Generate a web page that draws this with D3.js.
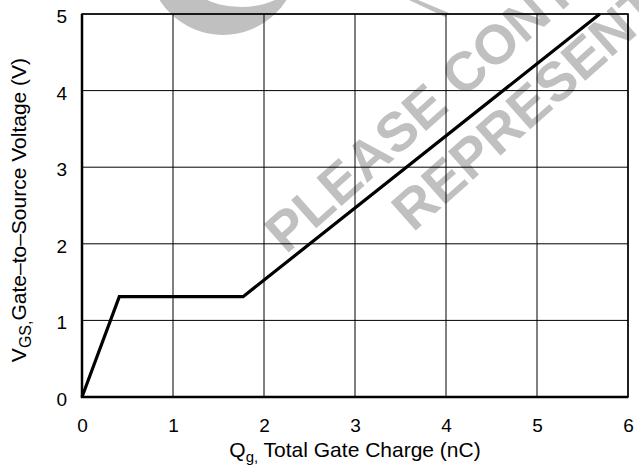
<!DOCTYPE html>
<html>
  <head>
    <meta charset="UTF-8" />
    <title>Gate Charge</title>
    <script src="https://d3js.org/d3.v7.min.js"></script>
    <style>
      body { margin: 0; background: #fff; }
      text { font-family: 'Liberation Sans', Arial, Helvetica, sans-serif; }
    </style>
  </head>
  <body>
    <div id="main"></div>
    <script type="text/javascript">
      const width = 639;
      const height = 468;

      // gate charge curve (nC, V)
      const qg = [0, 0.41, 1.77, 5.69];
      const vgs = [0, 1.31, 1.31, 5];

      const xTicks = [0, 1, 2, 3, 4, 5, 6];
      const yTicks = [0, 1, 2, 3, 4, 5];

      const watermarkLines = ['PLEASE CONTACT YOUR', 'REPRESENTATIVE'];

      const margin = { top: 14, right: 11, bottom: 71, left: 82 };

      const svg = d3
        .select('div#main')
        .append('svg')
        .attr('width', width)
        .attr('height', height);

      const x = d3.scaleLinear().domain([0, 6]).range([margin.left, width - margin.right]);
      const y = d3.scaleLinear().domain([0, 5]).range([height - margin.bottom, margin.top]);

      // watermark (grey, behind the grid)
      const wm = svg.append('g').attr('fill', '#c0c0c0');
      wm.append('path')
        .attr('fill-rule', 'evenodd')
        .attr('d', 'M148,-40a75,75 0 1,0 150,0a75,75 0 1,0 -150,0Z' +
                   'M183,-30a58,37 0 1,0 116,0a58,37 0 1,0 -116,0Z');
      wm.append('path').attr('d', 'M409,0L418,0L449,13L445,17Z');
      const wmStarts = [[286, 255], [413, 233]];
      watermarkLines.forEach((t, i) => {
        wm.append('text')
          .attr('transform', `translate(${wmStarts[i][0]},${wmStarts[i][1]}) rotate(-41.5)`)
          .attr('font-size', 55)
          .attr('font-weight', 'bold')
          .text(t);
      });

      // grid
      svg.append('g')
        .selectAll('line')
        .data(xTicks)
        .join('line')
        .attr('x1', d => x(d)).attr('x2', d => x(d))
        .attr('y1', y(0)).attr('y2', y(5))
        .attr('stroke', '#000')
        .attr('stroke-width', 1);
      svg.append('g')
        .selectAll('line')
        .data(yTicks)
        .join('line')
        .attr('x1', x(0)).attr('x2', x(6))
        .attr('y1', d => y(d)).attr('y2', d => y(d))
        .attr('stroke', '#000')
        .attr('stroke-width', 1);

      // frame
      svg.append('rect')
        .attr('x', x(0)).attr('y', y(5))
        .attr('width', x(6) - x(0)).attr('height', y(0) - y(5))
        .attr('fill', 'none').attr('stroke', '#000').attr('stroke-width', 1.5);
      svg.append('path')
        .attr('d', `M${x(0)},${y(5)}V${y(0)}H${x(6)}`)
        .attr('fill', 'none').attr('stroke', '#000').attr('stroke-width', 2.5);

      // tick labels
      const xAxis = d3.axisBottom(x).tickValues(xTicks).tickFormat(d3.format('d')).tickSize(0).tickPadding(22);
      svg.append('g')
        .attr('transform', `translate(0,${y(0)})`)
        .call(xAxis)
        .call(g => g.select('.domain').remove())
        .selectAll('text')
        .attr('font-size', 19)
        .attr('font-family', 'Liberation Sans, Arial, sans-serif')
        .attr('fill', '#000');

      const yAxis = d3.axisLeft(y).tickValues(yTicks).tickFormat(d3.format('d')).tickSize(0).tickPadding(15);
      svg.append('g')
        .attr('transform', `translate(${x(0)},0)`)
        .call(yAxis)
        .call(g => g.select('.domain').remove())
        .selectAll('text')
        .attr('font-size', 19)
        .attr('font-family', 'Liberation Sans, Arial, sans-serif')
        .attr('fill', '#000')
        .attr('dy', '0.45em');

      // curve
      const pts = qg.map((q, i) => [q, vgs[i]]);
      svg.append('path')
        .datum(pts)
        .attr('d', d3.line().x(d => x(d[0])).y(d => y(d[1])))
        .attr('fill', 'none')
        .attr('stroke', '#000')
        .attr('stroke-width', 3.2)
        .attr('stroke-linejoin', 'miter');

      // axis titles
      const xt = svg.append('text')
        .attr('x', (x(0) + x(6)) / 2)
        .attr('y', 457)
        .attr('text-anchor', 'middle')
        .attr('font-size', 21);
      xt.append('tspan').text('Q');
      xt.append('tspan').attr('font-size', 15).attr('dy', 5).text('g,');
      xt.append('tspan').attr('dy', -5).text(' Total Gate Charge (nC)');

      const yt = svg.append('text')
        .attr('transform', `translate(26,210) rotate(-90)`)
        .attr('text-anchor', 'middle')
        .attr('font-size', 21);
      yt.append('tspan').text('V');
      yt.append('tspan').attr('font-size', 16).attr('dy', 5).text('GS,');
      yt.append('tspan').attr('dy', -5).text('Gate\u2013to\u2013Source Voltage (V)');
    </script>
  </body>
</html>
